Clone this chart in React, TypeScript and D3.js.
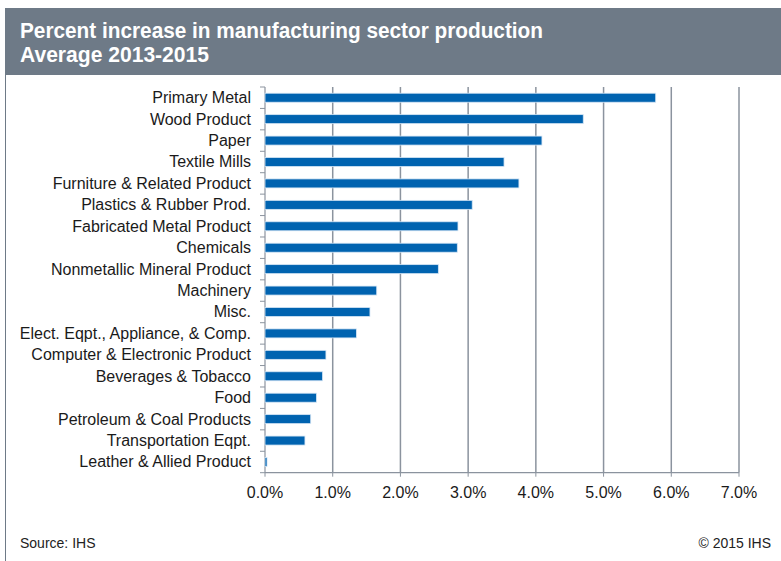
import React from "react";
import * as d3 from "d3";

const categories = [
  "Primary Metal",
  "Wood Product",
  "Paper",
  "Textile Mills",
  "Furniture & Related Product",
  "Plastics & Rubber Prod.",
  "Fabricated Metal Product",
  "Chemicals",
  "Nonmetallic Mineral Product",
  "Machinery",
  "Misc.",
  "Elect. Eqpt., Appliance, & Comp.",
  "Computer & Electronic Product",
  "Beverages & Tobacco",
  "Food",
  "Petroleum & Coal Products",
  "Transportation Eqpt.",
  "Leather & Allied Product",
];
const values = [5.77, 4.7, 4.09, 3.53, 3.75, 3.06, 2.85, 2.84, 2.56, 1.65, 1.55, 1.35, 0.9, 0.85, 0.76, 0.675, 0.59, 0.03];
const xTicks = [0, 1, 2, 3, 4, 5, 6, 7];
const titleLines = ["Percent increase in manufacturing sector production", "Average 2013-2015"];

const W = 781;
const H = 561;
const FONT = "'Liberation Sans', Arial, sans-serif";
const NARROW = "'Liberation Sans Narrow', 'Arial Narrow', 'Liberation Sans', Arial, sans-serif";

export default function App() {
  const x = d3.scaleLinear().domain([0, 7]).range([265, 739]);
  const y = d3.scaleBand<string>().domain(categories).range([87, 472.7]).paddingInner(0.58).paddingOuter(0.29);
  const top = 87;
  const bottom = 472.7;
  const boundaries = d3.range(categories.length + 1).map((i) => top + i * ((bottom - top) / categories.length));
  const grid = "#8b939e";

  return (
    <svg width={W} height={H} style={{ position: "absolute", left: 0, top: 0 }}>
      <rect x={0} y={0} width={W} height={H} fill="#fff" />
      {/* header */}
      <rect x={5} y={8} width={W - 5} height={67} fill="#6e7a87" />
      <text x={20} y={38} fill="#fff" fontFamily={NARROW} fontWeight="bold" fontSize={22} textLength={523} lengthAdjust="spacingAndGlyphs">
        {titleLines[0]}
      </text>
      <text x={20} y={62} fill="#fff" fontFamily={NARROW} fontWeight="bold" fontSize={22} textLength={189} lengthAdjust="spacingAndGlyphs">
        {titleLines[1]}
      </text>
      {/* left frame */}
      <line x1={5.5} x2={5.5} y1={75} y2={H} stroke="#6e7a87" strokeWidth={1} />

      {/* gridlines */}
      {xTicks.slice(1).map((t) => (
        <line key={"g" + t} x1={x(t)} x2={x(t)} y1={top} y2={bottom} stroke={grid} strokeWidth={1.5} />
      ))}
      {/* bottom ticks */}
      {xTicks.map((t) => (
        <line key={"bt" + t} x1={x(t)} x2={x(t)} y1={bottom} y2={bottom + 4} stroke={grid} strokeWidth={1} />
      ))}
      {/* axes */}
      <line x1={x(0)} x2={x(0)} y1={top} y2={bottom} stroke={grid} strokeWidth={1.2} />
      <line x1={x(0)} x2={x(7)} y1={bottom} y2={bottom} stroke={grid} strokeWidth={1.2} />
      {boundaries.map((b, i) => (
        <line key={"yt" + i} x1={x(0) - 5} x2={x(0)} y1={b} y2={b} stroke={grid} strokeWidth={1} />
      ))}

      {/* bars */}
      {categories.map((c, i) => (
        <rect
          key={c}
          x={x(0)}
          y={y(c)!}
          width={x(values[i]) - x(0)}
          height={y.bandwidth()}
          fill="#0063b0"
          stroke="#d6e6f5"
          strokeWidth={0.8}
        />
      ))}

      {/* category labels */}
      {categories.map((c) => (
        <text key={"l" + c} x={251} y={y(c)! + y.bandwidth() / 2} dy="0.34em" textAnchor="end" fontFamily={FONT} fontSize={16} fill="#1a1a1a">
          {c}
        </text>
      ))}
      {/* tick labels */}
      {xTicks.map((t) => (
        <text key={"tl" + t} x={x(t)} y={498} textAnchor="middle" fontFamily={FONT} fontSize={16} fill="#1a1a1a">
          {d3.format(".1f")(t) + "%"}
        </text>
      ))}

      {/* footer */}
      <text x={20} y={548} fontFamily={NARROW} fontSize={14} fill="#222">Source: IHS</text>
      <text x={771} y={548} textAnchor="end" fontFamily={NARROW} fontSize={14} fill="#222">© 2015 IHS</text>
    </svg>
  );
}
